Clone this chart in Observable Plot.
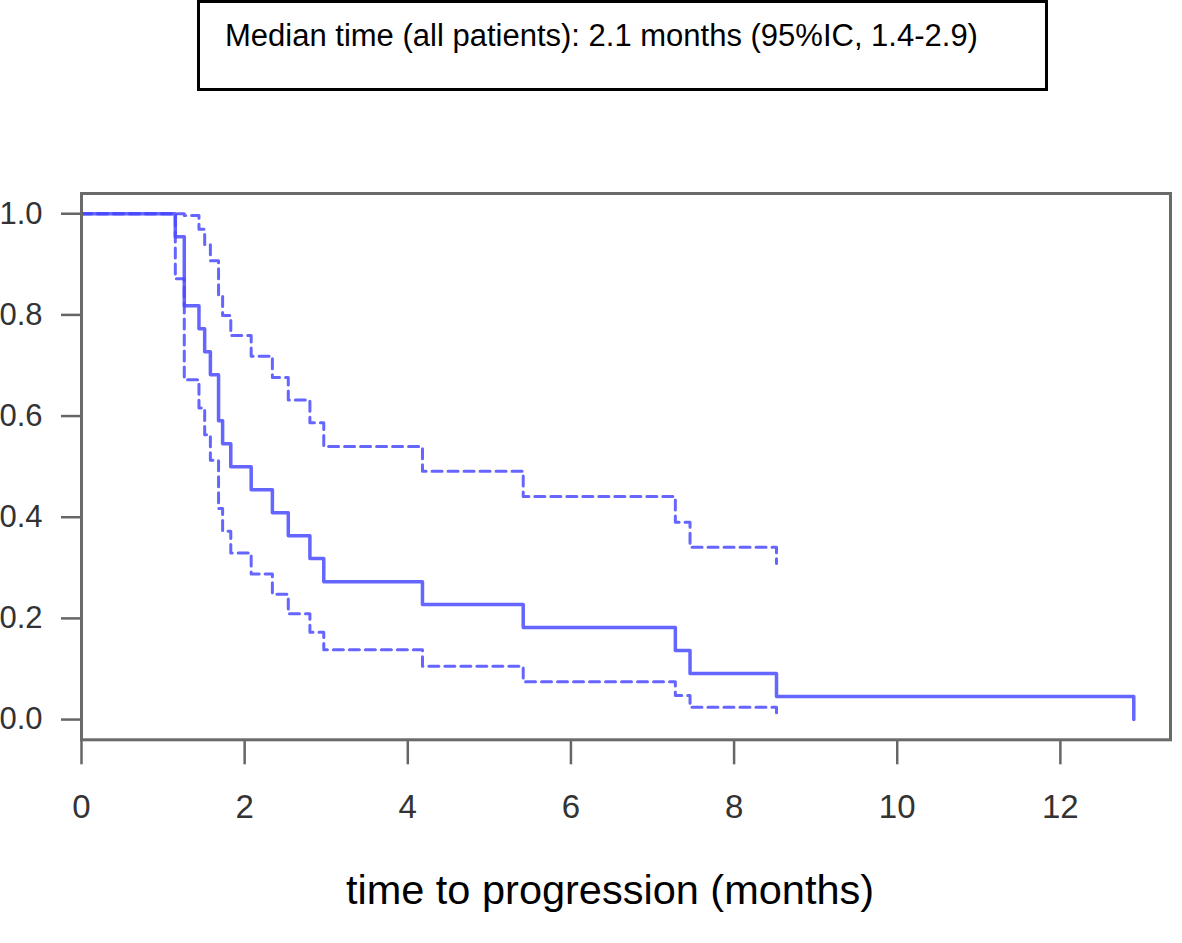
<!DOCTYPE html>
<html>
<head>
<meta charset="utf-8">
<script src="https://cdn.jsdelivr.net/npm/d3@7"></script>
<script src="https://cdn.jsdelivr.net/npm/@observablehq/plot@0.6"></script>
<style>
  html, body { margin: 0; padding: 0; background: #fff; overflow: hidden; }
  #wrap { position: relative; width: 1182px; height: 943px; font-family: "Liberation Sans", Arial, sans-serif; }
  #title { position: absolute; left: 197px; top: 0px; width: 851px; height: 91px; box-sizing: border-box; border: 3px solid #000; }
  #title span { position: absolute; left: 25px; top: 15px; font-size: 31px; color: #000; white-space: nowrap; }
  #chart { position: absolute; left: 0; top: 150px; }
  #xtitle { position: absolute; left: 0; width: 1220px; text-align: center; top: 866px; font-size: 41.5px; color: #000; white-space: nowrap; }
</style>
</head>
<body>
<div id="wrap">
  <div id="title"><span id="titleText"></span></div>
  <div id="chart"></div>
  <div id="xtitle"></div>
</div>
<script>
// ---- data ----
const titleText = "Median time (all patients): 2.1 months (95%IC, 1.4-2.9)";
const xLabel = "time to progression (months)";
const times    = [0, 1.15, 1.26, 1.44, 1.51, 1.58, 1.68, 1.73, 1.83, 2.08, 2.34, 2.535, 2.80, 2.97, 4.18, 5.415, 7.28, 7.46, 8.52, 12.9];
const survival = [1, 0.9545, 0.8182, 0.7727, 0.7273, 0.6818, 0.5909, 0.5455, 0.5, 0.4545, 0.4091, 0.3636, 0.3182, 0.2727, 0.2273, 0.1818, 0.1364, 0.0909, 0.0455, 0];
const upper    = [1, 1, 0.9963, 0.9693, 0.9394, 0.9071, 0.8366, 0.7988, 0.7594, 0.7184, 0.6760, 0.6320, 0.5866, 0.5396, 0.4911, 0.4412, 0.3903, 0.3408, 0.3085, null];
const lower    = [1, 0.8713, 0.6719, 0.6160, 0.5631, 0.5125, 0.4174, 0.3725, 0.3292, 0.2876, 0.2476, 0.2092, 0.1726, 0.1378, 0.1052, 0.0749, 0.0476, 0.0243, 0.0067, null];
const xTicks = [0, 2, 4, 6, 8, 10, 12];
const yTicks = [0, 0.2, 0.4, 0.6, 0.8, 1.0];

document.getElementById("titleText").textContent = titleText;
document.getElementById("xtitle").textContent = xLabel;

const km = times.map((t, i) => ({t, s: survival[i]}));
const up = times.map((t, i) => ({t, s: upper[i]})).filter(d => d.s != null);
const lo = times.map((t, i) => ({t, s: lower[i]})).filter(d => d.s != null);

const blue = "#4a4aff";
const chart = Plot.plot({
  width: 1182,
  height: 690,
  marginTop: 43,
  marginBottom: 100.7,
  marginLeft: 81,
  marginRight: 12,
  style: {background: "#fff", fontFamily: "'Liberation Sans', Arial, sans-serif", overflow: "visible"},
  x: {domain: [0, 13.35]},
  y: {domain: [-0.04, 1.04]},
  marks: [
    Plot.axisX({ticks: xTicks, tickSize: 25, tickPadding: 30, fontSize: 33, stroke: "#666", strokeWidth: 2.5, color: "#333", label: null}),
    Plot.axisY({ticks: yTicks, tickSize: 20, tickPadding: 19, fontSize: 31, stroke: "#666", strokeWidth: 2.5, color: "#333", tickFormat: d3.format(".1f"), label: null}),
    Plot.line(up, {x: "t", y: "s", curve: "step-after", stroke: blue, strokeWidth: 3, strokeDasharray: "10,6", strokeOpacity: 0.85}),
    Plot.line(lo, {x: "t", y: "s", curve: "step-after", stroke: blue, strokeWidth: 3, strokeDasharray: "10,6", strokeOpacity: 0.85}),
    Plot.line(km, {x: "t", y: "s", curve: "step-after", stroke: blue, strokeWidth: 3.5, strokeOpacity: 0.85}),
    Plot.frame({stroke: "#6a6a6a", strokeWidth: 3})
  ]
});
document.getElementById("chart").appendChild(chart);
</script>
</body>
</html>
